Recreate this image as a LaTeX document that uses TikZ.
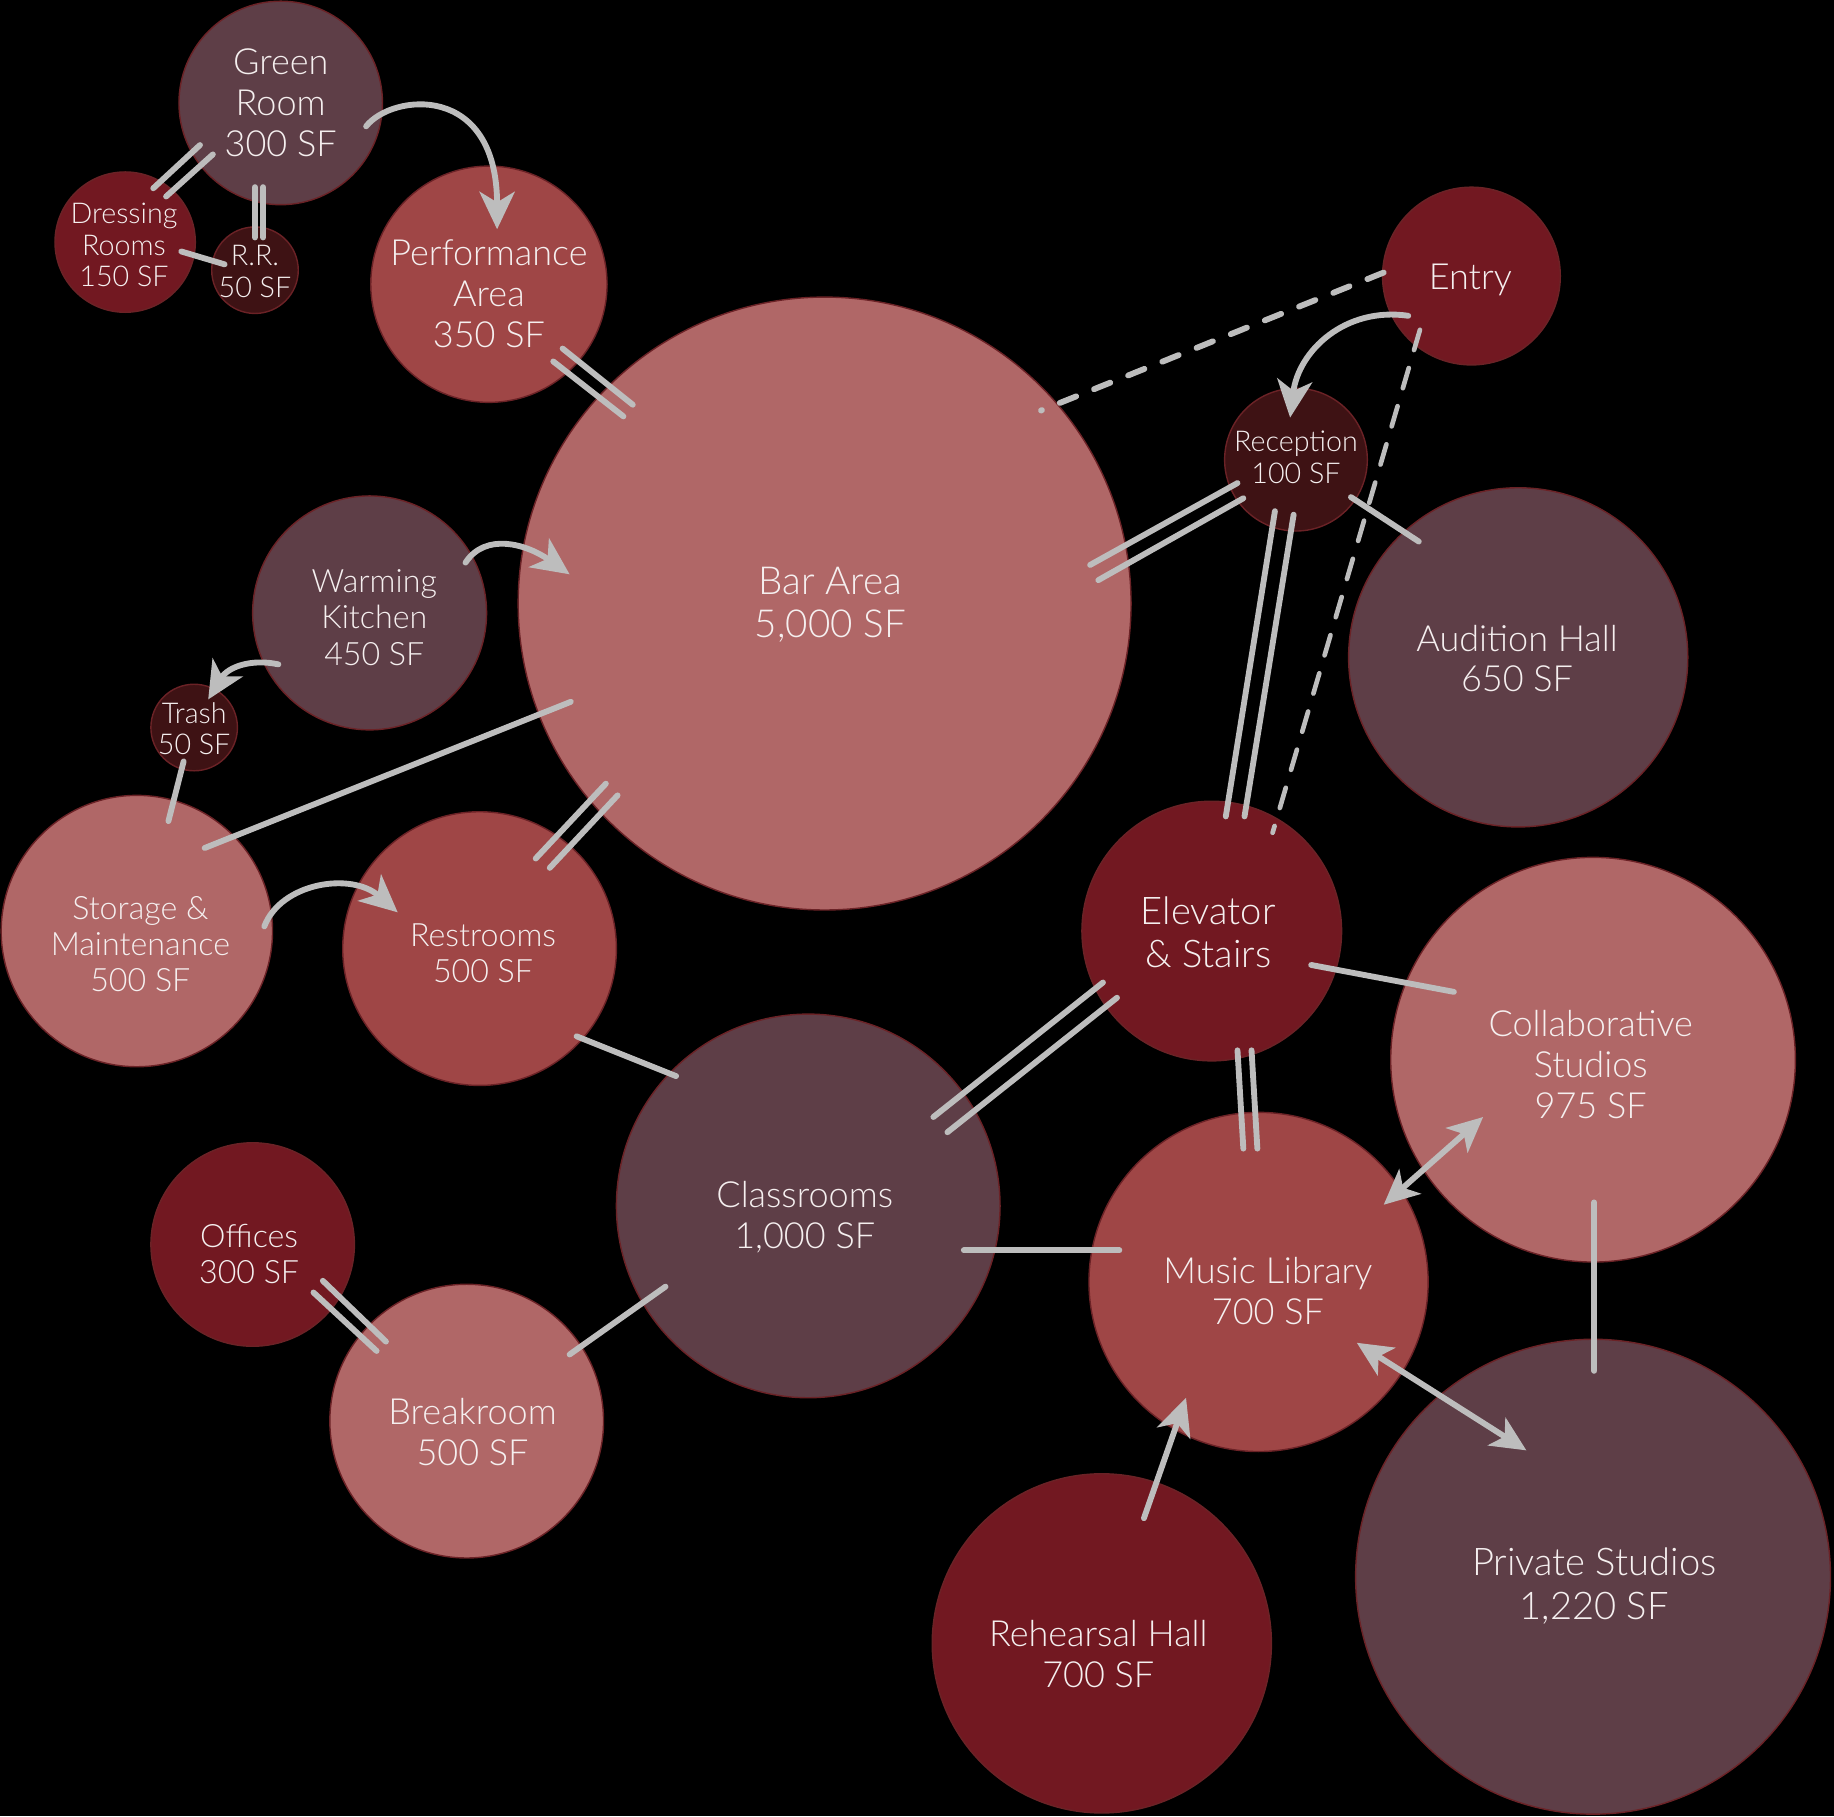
\documentclass[tikz,border=0pt]{standalone}
\usepackage{fontspec}
\IfFontExistsTF{Lato Light}{\setmainfont{Lato Light}}{\setmainfont{Lato}}
\usetikzlibrary{calc,arrows.meta}
\definecolor{cMauve}{HTML}{5E3E47}
\definecolor{cDark}{HTML}{721821}
\definecolor{cDeep}{HTML}{3E1214}
\definecolor{cMid}{HTML}{9F4646}
\definecolor{cPink}{HTML}{B06767}
\definecolor{cEdge}{HTML}{6B2226}
\definecolor{cLine}{HTML}{BDBDBD}
\definecolor{cText}{HTML}{F5EFEF}
\newcommand\fbig{\fontsize{30.8}{35}\selectfont}
\newcommand\fbar{\fontsize{33}{37}\selectfont}
\newcommand\fhuge{\fontsize{32.6}{37}\selectfont}
\newcommand\fmed{\fontsize{27.5}{31}\selectfont}
\newcommand\fsml{\fontsize{24.5}{27}\selectfont}
\begin{document}
\begin{tikzpicture}[x=1pt,y=-1pt,
  room/.style={circle, draw=cEdge, line width=1.2pt, inner sep=0pt},
  txt/.style={text=cText, align=center, inner sep=0pt},
  conn/.style={draw=cLine, line width=5pt, line cap=round},
  dashy/.style={draw=cLine, line width=5pt, line cap=round, dash pattern=on 15pt off 16.5pt},
  dashz/.style={draw=cLine, line width=4pt, line cap=round, dash pattern=on 18pt off 16pt},
  arr/.style={conn, -{Stealth[length=32pt,width=30pt,inset=9pt]}},
  darr/.style={conn, {Stealth[length=30pt,width=28pt,inset=8pt]}-{Stealth[length=30pt,width=28pt,inset=8pt]}}]
\fill[black] (0,0) rectangle (1568,1553);
\useasboundingbox (0,0) rectangle (1568,1553);

% rooms
\node[room, fill=cMauve, minimum size=174pt,
  label={[txt,font=\fbig]center:{Green\\Room\\300 SF}}] (green) at (240,88) {};
\node[room, fill=cDark, minimum size=120pt,
  label={[txt,font=\fsml,xshift=-1pt,yshift=-2.5pt]center:{Dressing\\Rooms\\150 SF}}] (dress) at (107,207) {};
\node[room, fill=cDeep, minimum size=74pt,
  label={[txt,font=\fsml,yshift=-1pt]center:{R.R.\\50 SF}}] (rr) at (218,231) {};
\node[room, fill=cMid, minimum size=202pt,
  label={[txt,font=\fbig,yshift=-8pt]center:{Performance\\Area\\350 SF}}] (perf) at (418,243) {};
\node[room, fill=cPink, minimum size=524pt,
  label={[txt,font=\fbar,xshift=5pt,yshift=-1pt]center:{Bar Area\\5,000 SF}}] (bar) at (705,516) {};
\node[room, fill=cDark, minimum size=152pt,
  label={[txt,font=\fbig,xshift=-1pt,yshift=-3pt]center:{Entry}}] (entry) at (1258,236) {};
\node[room, fill=cDeep, minimum size=122pt,
  label={[txt,font=\fsml,yshift=2pt]center:{Reception\\100 SF}}] (recep) at (1108,393) {};
\node[room, fill=cMauve, minimum size=290pt,
  label={[txt,font=\fbig,xshift=-1pt,yshift=-1pt]center:{Audition Hall\\650 SF}}] (aud) at (1298,562) {};
\node[room, fill=cMauve, minimum size=200pt,
  label={[txt,font=\fmed,xshift=4pt,yshift=-4pt]center:{Warming\\Kitchen\\450 SF}}] (warm) at (316,524) {};
\node[room, fill=cDeep, minimum size=74pt,
  label={[txt,font=\fsml,yshift=-1pt]center:{Trash\\50 SF}}] (trash) at (166,622) {};
\node[room, fill=cPink, minimum size=232pt,
  label={[txt,font=\fmed,xshift=3pt,yshift=-11pt]center:{Storage \&\\Maintenance\\500 SF}}] (stor) at (117,796) {};
\node[room, fill=cMid, minimum size=234pt,
  label={[txt,font=\fmed,xshift=3pt,yshift=-4pt]center:{Restrooms\\500 SF}}] (rest) at (410,811) {};
\node[room, fill=cMauve, minimum size=328pt,
  label={[txt,font=\fbig,xshift=-3pt,yshift=-9.5pt]center:{Classrooms\\1,000 SF}}] (class) at (691,1031) {};
\node[room, fill=cDark, minimum size=222pt,
  label={[txt,font=\fhuge,xshift=-3pt,yshift=-1pt]center:{Elevator\\\& Stairs}}] (elev) at (1036,796) {};
\node[room, fill=cPink, minimum size=346pt,
  label={[txt,font=\fbig,xshift=-2pt,yshift=-4pt]center:{Collaborative\\Studios\\975 SF}}] (collab) at (1362,906) {};
\node[room, fill=cMid, minimum size=290pt,
  label={[txt,font=\fbig,xshift=8pt,yshift=-8pt]center:{Music Library\\700 SF}}] (music) at (1076,1096) {};
\node[room, fill=cDark, minimum size=174pt,
  label={[txt,font=\fmed,xshift=-3pt,yshift=-8pt]center:{Offices\\300 SF}}] (office) at (216,1064) {};
\node[room, fill=cPink, minimum size=234pt,
  label={[txt,font=\fbig,xshift=5pt,yshift=-9pt]center:{Breakroom\\500 SF}}] (brk) at (399,1215) {};
\node[room, fill=cDark, minimum size=290pt,
  label={[txt,font=\fbig,xshift=-3pt,yshift=-9pt]center:{Rehearsal Hall\\700 SF}}] (reh) at (942,1405) {};
\node[room, fill=cMauve, minimum size=406pt,
  label={[txt,font=\fhuge,xshift=1pt,yshift=-8pt]center:{Private Studios\\1,220 SF}}] (priv) at (1362,1348) {};

% double links
\draw[conn] ($(dress)+(24,-46)$) -- ($(green)+(-69,36)$);
\draw[conn] ($(dress)+(35,-39)$) -- ($(green)+(-58,44)$);
\draw[conn] ($(green)+(-22,72)$) -- ($(rr)+(0,-28)$);
\draw[conn] ($(green)+(-15,72)$) -- ($(rr)+(7,-28)$);
\draw[conn] ($(perf)+(63,55)$) -- ($(bar)+(-164,-170)$);
\draw[conn] ($(perf)+(55,66)$) -- ($(bar)+(-172,-160)$);
\draw[conn] ($(bar)+(227,-33)$) -- ($(recep)+(-50,20)$);
\draw[conn] ($(bar)+(234,-20)$) -- ($(recep)+(-45,33)$);
\draw[conn] ($(recep)+(-18,44)$) -- ($(elev)+(12,-98)$);
\draw[conn] ($(recep)+(-2,47)$) -- ($(elev)+(28,-98)$);
\draw[conn] ($(bar)+(-187,154)$) -- ($(rest)+(48,-77)$);
\draw[conn] ($(bar)+(-177,164)$) -- ($(rest)+(60,-69)$);
\draw[conn] ($(class)+(107,-76)$) -- ($(elev)+(-93,44)$);
\draw[conn] ($(class)+(119,-63)$) -- ($(elev)+(-81,57)$);
\draw[conn] ($(elev)+(22,102)$) -- ($(music)+(-13,-114)$);
\draw[conn] ($(elev)+(34,102)$) -- ($(music)+(-1,-114)$);
\draw[conn] ($(office)+(60,31)$) -- ($(brk)+(-69,-68)$);
\draw[conn] ($(office)+(52,41)$) -- ($(brk)+(-77,-60)$);

% single links
\draw[conn] ($(dress)+(48,8)$) -- ($(rr)+(-26,-5)$);
\draw[conn] ($(recep)+(47,32)$) -- ($(aud)+(-85,-99)$);
\draw[conn] ($(trash)+(-9,29)$) -- ($(stor)+(27,-94)$);
\draw[conn] ($(stor)+(58,-71)$) -- ($(bar)+(-217,84)$);
\draw[conn] ($(rest)+(83,75)$) -- ($(class)+(-113,-111)$);
\draw[conn] ($(elev)+(85,29)$) -- ($(collab)+(-119,-58)$);
\draw[conn] ($(class)+(133,38)$) -- ($(music)+(-119,-27)$);
\draw[conn] ($(collab)+(1,122)$) -- ($(priv)+(1,-176)$);
\draw[conn] ($(brk)+(88,-57)$) -- ($(class)+(-122,69)$);

% dashed links
\draw[dashy] ($(entry)+(-75,-3)$) -- ($(bar)+(185,-165)$);
\draw[dashz] ($(entry)+(-44,46)$) -- ($(elev)+(52,-84)$);

% curved arrows
\draw[arr] ($(green)+(73,20)$) .. controls ($(green)+(95,-8)$) and ($(perf)+(7,-173)$) .. ($(perf)+(7,-47)$);
\draw[arr] ($(entry)+(-54,34)$) .. controls ($(entry)+(-108,26)$) and ($(recep)+(2,-93)$) .. ($(recep)+(-5,-36)$);
\draw[arr] ($(warm)+(82,-43)$) .. controls ($(warm)+(99,-69)$) and ($(bar)+(-255,-51)$) .. ($(bar)+(-218,-25)$);
\draw[arr] ($(warm)+(-78,44)$) .. controls ($(warm)+(-101,39)$) and ($(trash)+(29,-52)$) .. ($(trash)+(12,-24)$);
\draw[arr] ($(stor)+(109,-4)$) .. controls ($(stor)+(123,-41)$) and ($(rest)+(-110,-66)$) .. ($(rest)+(-70,-31)$);

% straight arrows
\draw[arr] ($(reh)+(36,-107)$) -- ($(music)+(-62,99)$);
\draw[darr] ($(music)+(107,-66)$) -- ($(collab)+(-94,49)$);
\draw[darr] ($(music)+(84,52)$) -- ($(priv)+(-57,-108)$);
\end{tikzpicture}
\end{document}
